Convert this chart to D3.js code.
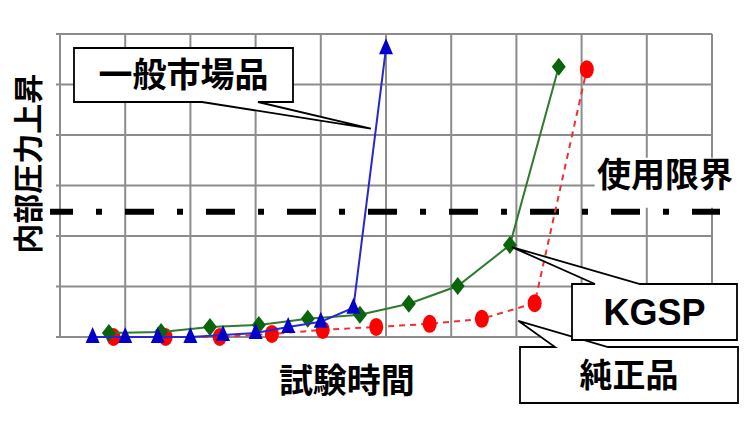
<!DOCTYPE html>
<html>
<head>
<meta charset="utf-8">
<script src="https://cdn.jsdelivr.net/npm/d3@7"></script>
<style>
  body { margin: 0; background: #fff; }
  svg { display: block; }
  .jp { font-family: "Noto Sans CJK JP", sans-serif; font-weight: 700; }
</style>
</head>
<body>
<div id="graph"></div>
<script>
// data (arbitrary units, 1 unit = 1 grid cell)
var marketX = [0.5, 1, 1.5, 2, 2.5, 3, 3.5, 4, 4.5, 5];
var marketY = [0, 0, 0, 0, 0.04, 0.08, 0.2, 0.3, 0.58, 5.72];

var kgspX = [0.75, 1.55, 2.3, 3.05, 3.8, 4.6, 5.35, 6.1, 6.9, 7.65];
var kgspY = [0.08, 0.1, 0.2, 0.24, 0.36, 0.44, 0.66, 1.01, 1.82, 5.35];

var genuineX = [0.82, 1.62, 2.45, 3.25, 4.03, 4.85, 5.67, 6.47, 7.28, 8.08];
var genuineY = [0, 0, 0, 0.06, 0.14, 0.2, 0.26, 0.36, 0.67, 5.3];

var limitY = 2.48;

var xTicks = [0, 1, 2, 3, 4, 5, 6, 7, 8, 9, 10];
var yTicks = [0, 1, 2, 3, 4, 5, 6];

var w = 750,
    h = 422;

var x = d3.scaleLinear().domain([0, 10]).range([60, 712]);
var y = d3.scaleLinear().domain([0, 6]).range([337, 34]);

var vis = d3.select('#graph')
            .append('svg')
            .attr('width', w)
            .attr('height', h);

function pts(xs, ys) {
  return xs.map(function(v, i) { return {x: v, y: ys[i]}; });
}
var market = pts(marketX, marketY),
    kgsp = pts(kgspX, kgspY),
    genuine = pts(genuineX, genuineY);

// grid
vis.selectAll('.vgrid')
    .data(xTicks)
    .enter()
    .append('line')
    .attr('x1', function(d) { return x(d); })
    .attr('x2', function(d) { return x(d); })
    .attr('y1', y(6))
    .attr('y2', y(0))
    .attr('stroke', '#8c8c8c')
    .attr('stroke-width', 2);

vis.selectAll('.hgrid')
    .data(yTicks)
    .enter()
    .append('line')
    .attr('x1', x(0) - 4)
    .attr('x2', x(10))
    .attr('y1', function(d) { return y(d); })
    .attr('y2', function(d) { return y(d); })
    .attr('stroke', '#8c8c8c')
    .attr('stroke-width', 2);

// white patch behind the limit label
vis.append('rect')
    .attr('x', x(8.2))
    .attr('y', y(3.55))
    .attr('width', 160)
    .attr('height', 50)
    .attr('fill', '#fff');

vis.append('text')
    .attr('class', 'jp')
    .attr('x', 665)
    .attr('y', y(2.98))
    .attr('text-anchor', 'middle')
    .attr('font-size', '34px')
    .attr('fill', '#000')
    .text('使用限界');

// usage limit dash-dot
vis.append('line')
    .attr('x1', 50)
    .attr('x2', 720)
    .attr('y1', y(limitY))
    .attr('y2', y(limitY))
    .attr('stroke', '#000')
    .attr('stroke-width', 6)
    .attr('stroke-dasharray', '29,23,6,23')
    .attr('stroke-dashoffset', 6);

var line = d3.line()
    .x(function(d) { return x(d.x); })
    .y(function(d) { return y(d.y); });

// 純正品 (red, dashed)
vis.append('path')
    .datum(genuine)
    .attr('d', line)
    .attr('fill', 'none')
    .attr('stroke', '#f03030')
    .attr('stroke-width', 2)
    .attr('stroke-dasharray', '6,5');

vis.selectAll('.genuine')
    .data(genuine)
    .enter()
    .append('ellipse')
    .attr('cx', function(d) { return x(d.x); })
    .attr('cy', function(d) { return y(d.y); })
    .attr('rx', 7)
    .attr('ry', 9)
    .attr('fill', '#ff0000');

// KGSP (green)
vis.append('path')
    .datum(kgsp)
    .attr('d', line)
    .attr('fill', 'none')
    .attr('stroke', '#2f7a2f')
    .attr('stroke-width', 2);

vis.selectAll('.kgsp')
    .data(kgsp)
    .enter()
    .append('path')
    .attr('d', function(d) {
      var cx = x(d.x), cy = y(d.y);
      return 'M' + cx + ',' + (cy - 9) + 'L' + (cx + 7) + ',' + cy +
             'L' + cx + ',' + (cy + 9) + 'L' + (cx - 7) + ',' + cy + 'Z';
    })
    .attr('fill', '#0a640a');

// 一般市場品 (blue)
vis.append('path')
    .datum(market)
    .attr('d', line)
    .attr('fill', 'none')
    .attr('stroke', '#2828d0')
    .attr('stroke-width', 2);

vis.selectAll('.market')
    .data(market)
    .enter()
    .append('path')
    .attr('d', function(d) {
      var cx = x(d.x), cy = y(d.y);
      return 'M' + cx + ',' + (cy - 10) + 'L' + (cx + 7) + ',' + (cy + 6) +
             'L' + (cx - 7) + ',' + (cy + 6) + 'Z';
    })
    .attr('fill', '#0000c8');

// callouts: box [x0,y0,x1,y1], wedge base on one edge, tip near a point
function callout(box, side, a, b, tip, label, font, size) {
  var x0 = box[0], y0 = box[1], x1 = box[2], y1 = box[3], p;
  if (side === 'bottom') {
    p = [[x0, y0], [x1, y0], [x1, y1], [b, y1], tip, [a, y1], [x0, y1]];
  } else {
    p = [[x0, y0], [a, y0], tip, [b, y0], [x1, y0], [x1, y1], [x0, y1]];
  }
  vis.append('path')
      .attr('d', 'M' + p.join('L') + 'Z')
      .attr('fill', '#fff')
      .attr('stroke', '#000')
      .attr('stroke-width', 1.8)
      .attr('stroke-linejoin', 'miter');
  vis.append('text')
      .attr('x', (x0 + x1) / 2)
      .attr('y', (y0 + y1) / 2)
      .attr('dy', '0.36em')
      .attr('text-anchor', 'middle')
      .attr('font-family', font)
      .attr('font-weight', 700)
      .attr('font-size', size)
      .attr('fill', '#000')
      .text(label);
}

var jpFont = '"Noto Sans CJK JP", sans-serif';

var m8 = market[8], m9 = market[9], t = 0.69;
var marketTip = [x(m8.x + (m9.x - m8.x) * t) - 5, y(m8.y + (m9.y - m8.y) * t)];
callout([74, 48, 293, 102], 'bottom', 202, 258, marketTip, '一般市場品', jpFont, '34px');

var g7 = genuine[7], g8 = genuine[8];
var genuineTip = [x((g7.x + g8.x) / 2) + 10, y(g7.y) + 2];
callout([520, 347, 738, 403], 'top', 555, 608, genuineTip, '純正品', jpFont, '33px');

var kgspTip = [x(kgsp[8].x) + 2, y(kgsp[8].y) + 2];
callout([572, 284, 737, 340], 'top', 595, 640, kgspTip, 'KGSP', '"Liberation Sans", Arial, sans-serif', '36px');

// axis titles
vis.append('text')
    .attr('class', 'jp')
    .attr('transform', 'translate(28,' + y(3.43) + ') rotate(-90)')
    .attr('dy', '0.36em')
    .attr('text-anchor', 'middle')
    .attr('font-size', '30px')
    .attr('fill', '#000')
    .text('内部圧力上昇');

vis.append('text')
    .attr('class', 'jp')
    .attr('x', x(4.4))
    .attr('y', 381)
    .attr('dy', '0.36em')
    .attr('text-anchor', 'middle')
    .attr('font-size', '34px')
    .attr('fill', '#000')
    .text('試験時間');
</script>
</body>
</html>
